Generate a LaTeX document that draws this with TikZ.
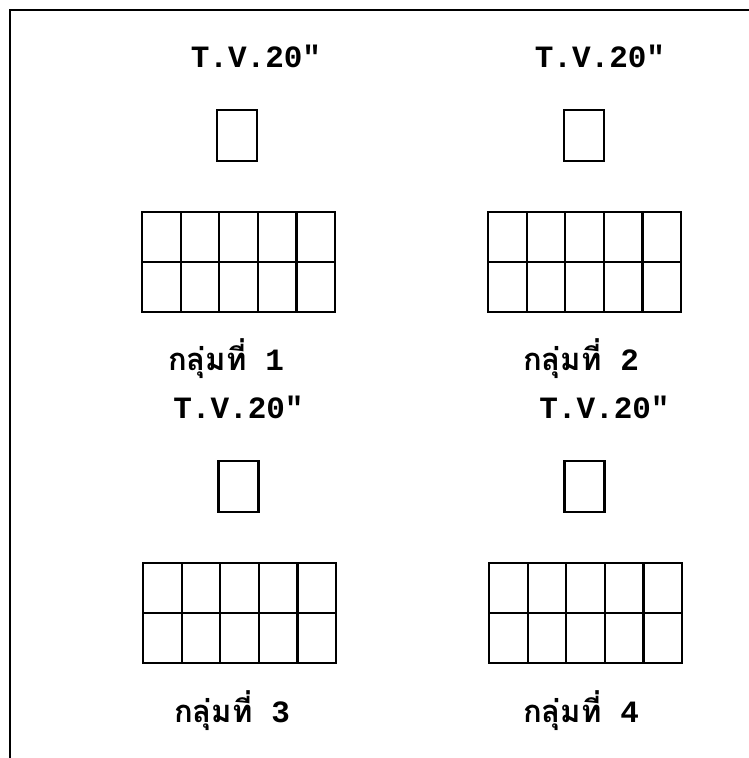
\documentclass[tikz,border=0pt]{standalone}
\usepackage{fontspec}
\newfontfamily\thaifont[Script=Thai]{Loma}
\newfontfamily\tvmono{Liberation Mono}
\begin{document}
\begin{tikzpicture}[x=1pt,y=-1pt,
  line width=2.2pt,
  tvlabel/.style={anchor=base,inner sep=0pt,font=\tvmono\bfseries\fontsize{31}{31}\selectfont},
  grouplabel/.style={anchor=base west,inner sep=0pt,font=\thaifont\bfseries\fontsize{31}{31}\selectfont},
  tvbox/.style={draw,minimum width=40pt,minimum height=51pt,inner sep=0pt},
  seat/.style={draw,minimum width=38.6pt,minimum height=50pt,inner sep=0pt,anchor=north west}
]
\useasboundingbox (0,0) rectangle (749,758);
\coordinate (fb) at (10,758);
\coordinate (fc) at (10,10);
\coordinate (fr) at (749,10);
\draw (fb) -- (fc) -- (fr);

% group data: tv text x, tv text baseline, box x, box y, grid left, grid top, label left, label baseline
\foreach \n/\tx/\ty/\bx/\by/\gx/\gy/\lx/\ly in {
  1/256/67/237/135.5/141/211/167/370,
  2/600/67/584/135.5/487/211/522/370,
  3/238.5/418/238.5/486.5/142/562/173/722,
  4/604.5/418/584.5/486.5/488/562/522/722}{
  \node[tvlabel] (tvt\n) at (\tx,\ty) {T.V.20"};
  \node[tvbox] (tv\n) at (\bx,\by) {};
  \foreach \c in {0,...,4}{
    \foreach \r in {0,1}{
      \node[seat] (s\n-\r-\c) at ({\gx+\c*38.6},{\gy+\r*50}) {};
    }
  }
  \node[grouplabel] (lab\n) at (\lx,\ly) {กลุ่มที่{\tvmono\bfseries\fontsize{31}{31}\selectfont\ \n}};
}
\end{tikzpicture}
\end{document}
